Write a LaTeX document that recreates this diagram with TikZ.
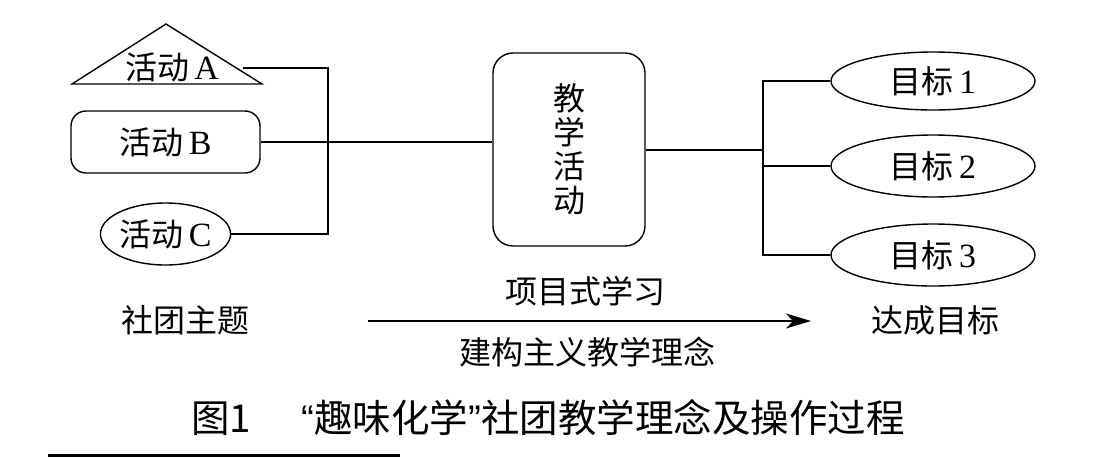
\documentclass[tikz,border=0pt]{standalone}
\usepackage{fontspec}
\setmainfont{Liberation Serif}
\newfontfamily\cjk{Noto Sans CJK SC}
\newfontfamily\capq{Liberation Sans}
\usetikzlibrary{shapes.geometric,arrows.meta}
\newcommand{\mixlbl}[2]{{\cjk #1}\,{\fontsize{34}{36}\selectfont #2}}
\begin{document}
\begin{tikzpicture}[x=1pt,y=-1pt,line width=1.4pt,
  lbl/.style={font=\fontsize{32}{36}\selectfont, inner sep=0pt},
  ell/.style={draw, ellipse, inner sep=0pt},
  conn/.style={draw, line width=1.4pt}]
\useasboundingbox (0,0) rectangle (1115,459);
% Activity A (triangle)
\coordinate (tA1) at (72,84);
\coordinate (tA2) at (166,24);
\coordinate (tA3) at (262,84);
\draw (tA1) -- (tA2) -- (tA3) -- cycle;
\node[lbl] (actA) at (172,67) {\mixlbl{活动}{A}};
\coordinate (aR) at (243,68);
% Activity B
\node[lbl, draw, rounded corners=15pt, minimum width=189pt, minimum height=62pt] (actB) at (165.5,142) {\mixlbl{活动}{B}};
% Activity C
\node[lbl, ell, minimum width=129pt, minimum height=62pt] (actC) at (165.5,234) {\mixlbl{活动}{C}};
% main box
\node[draw, rounded corners=20pt, minimum width=152pt, minimum height=193pt, inner sep=0pt,
  font=\fontsize{32}{34}\selectfont\cjk, align=center] (main) at (569,149.5) {教\\学\\活\\动};
% goals
\node[lbl, ell, minimum width=204pt, minimum height=58pt] (g1) at (933,81) {\mixlbl{目标}{1}};
\node[lbl, ell, minimum width=204pt, minimum height=62pt] (g2) at (933,166) {\mixlbl{目标}{2}};
\node[lbl, ell, minimum width=204pt, minimum height=62pt] (g3) at (933,255) {\mixlbl{目标}{3}};
% left connectors
\coordinate (jx) at (328,143);
\draw (aR) -- (aR -| jx) -- (actC.east -| jx) -- (actC.east);
\draw (actB.east) -- (actB.east -| main.west);
% right connectors
\coordinate (rj) at (763,150);
\draw (main.east |- rj) -- (rj);
\draw (g1.west) -- (g1.west -| rj) -- (g3.west -| rj) -- (g3.west);
\draw (g2.west) -- (g2.west -| rj);
% bottom labels
\node[lbl, font=\fontsize{32}{36}\selectfont\cjk] (lt) at (185,320) {社团主题};
\node[lbl, font=\fontsize{32}{36}\selectfont\cjk] (rt) at (935,320) {达成目标};
\coordinate (arS) at (368,321);
\coordinate (arE) at (811,321);
\draw[-{Stealth[length=25pt,width=15pt,inset=7pt]}] (arS) -- (arE);
\node[lbl, font=\fontsize{32}{36}\selectfont\cjk] (top) at (585,291) {项目式学习};
\node[lbl, font=\fontsize{32}{36}\selectfont\cjk] (bot) at (587,352) {建构主义教学理念};
% caption
\node[inner sep=0pt, font=\fontsize{38.5}{40}\selectfont\cjk] (cap) at (548,418) {图1\hspace{1.3em}{\capq “}趣味化学{\capq ”}社团教学理念及操作过程};
\coordinate (ul1) at (48,455);
\coordinate (ul2) at (400,455);
\draw[line width=3pt] (ul1) -- (ul2);
\end{tikzpicture}
\end{document}
